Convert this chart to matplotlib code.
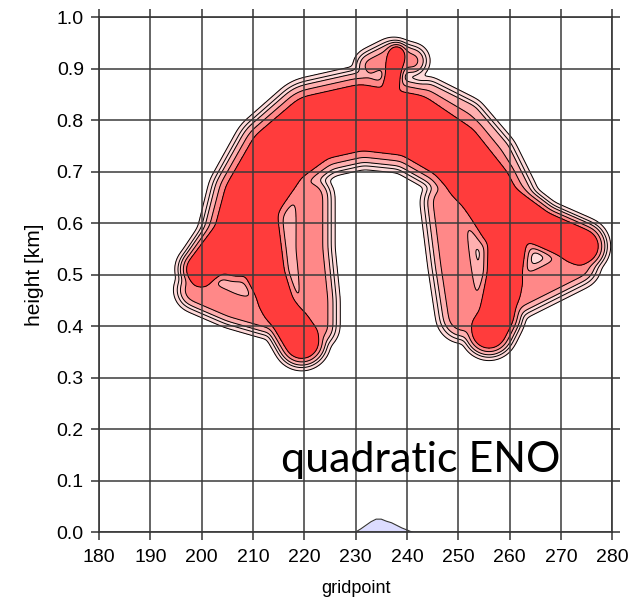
import numpy as np
import matplotlib
matplotlib.use("Agg")
import matplotlib.pyplot as plt

# bubble outline as tube strokes: centre line (gridpoint, km), half width (km)
ARCH_X = [207, 210, 215, 222, 231, 241, 249, 255, 259]
ARCH_Y = [0.55, 0.65, 0.73, 0.785, 0.805, 0.79, 0.74, 0.67, 0.60]
ARCH_W = [0.08, 0.085, 0.09, 0.095, 0.095, 0.09, 0.085, 0.08, 0.075]

LLOBE_X = [205, 200]
LLOBE_Y = [0.56, 0.51]
LLOBE_W = [0.06, 0.045]

LLEG_X = [210, 212.5, 215, 219.5]
LLEG_Y = [0.62, 0.50, 0.44, 0.37]
LLEG_W = [0.07, 0.055, 0.045, 0.05]

RLEG_X = [260, 259, 257.5, 256]
RLEG_Y = [0.62, 0.50, 0.42, 0.39]
RLEG_W = [0.06, 0.05, 0.05, 0.05]

RBRANCH_X = [258, 266, 274]
RBRANCH_Y = [0.64, 0.59, 0.555]
RBRANCH_W = [0.06, 0.05, 0.05]

CAP_X = [237, 238]
CAP_Y = [0.87, 0.93]
CAP_W = [0.02, 0.02]

# weaker (pink) parcels: centre line, half width, peak
LSWIRL_X = [199, 206, 213]
LSWIRL_Y = [0.47, 0.44, 0.42]
LIN_X = [221, 221, 222, 222]
LIN_Y = [0.65, 0.55, 0.45, 0.40]
RIN_X = [248, 249.5, 251]
RIN_Y = [0.64, 0.52, 0.42]
RSWIRL_X = [261, 267, 273]
RSWIRL_Y = [0.46, 0.49, 0.52]
CAPL_X = [233, 237, 241]
CAPL_Y = [0.905, 0.925, 0.915]
HALO_R_X = [244, 252, 258, 262]
HALO_R_Y = [0.85, 0.81, 0.74, 0.66]
HALO_L_X = [213, 207]
HALO_L_Y = [0.78, 0.70]

# small negative anomaly at the ground
NEG_X = [230, 231, 232, 233, 234, 235, 236, 237, 238, 239, 240, 241]
NEG_Y = [0.0, 0.006, 0.013, 0.02, 0.025, 0.025, 0.021, 0.018, 0.013, 0.008, 0.004, 0.0]

LEVELS = [0.01, 0.1, 0.2, 0.33, 5]
FILLS = ['#ffdada', '#ffb0b0', '#ff8888', '#ff3c3c']
LINES = [0.01, 0.045, 0.1, 0.2, 0.33]

xs = np.linspace(180, 280, 700)
ys = np.linspace(0, 1, 700)
XX, YY = np.meshgrid(xs, ys)
X = (XX - 180) / 100.0


def stroke(px, py, pw, a, gain=1.0):
    px = (np.asarray(px, float) - 180) / 100.0
    py = np.asarray(py, float)
    pw = np.broadcast_to(np.asarray(pw, float), px.shape)
    best = np.zeros_like(X)
    for i in range(len(px) - 1):
        dx, dy = px[i + 1] - px[i], py[i + 1] - py[i]
        L2 = dx * dx + dy * dy
        t = np.clip(((X - px[i]) * dx + (YY - py[i]) * dy) / L2, 0, 1)
        d = np.hypot(X - (px[i] + t * dx), YY - (py[i] + t * dy))
        w = pw[i] + t * (pw[i + 1] - pw[i])
        best = np.maximum(best, a * np.clip(gain * (1 - d / w), 0, 1))
    return best


def blur(f, sigma_km):
    s = sigma_km / (ys[1] - ys[0])
    k = np.arange(-int(4 * s), int(4 * s) + 1)
    k = np.exp(-0.5 * (k / s) ** 2)
    k /= k.sum()
    f = np.apply_along_axis(lambda r: np.convolve(r, k, mode='same'), 1, f)
    return np.apply_along_axis(lambda c: np.convolve(c, k, mode='same'), 0, f)


field = np.zeros_like(X)
for sx, sy, sw in [(ARCH_X, ARCH_Y, ARCH_W), (LLOBE_X, LLOBE_Y, LLOBE_W),
                   (LLEG_X, LLEG_Y, LLEG_W), (RLEG_X, RLEG_Y, RLEG_W),
                   (RBRANCH_X, RBRANCH_Y, RBRANCH_W), (CAP_X, CAP_Y, CAP_W)]:
    field = np.maximum(field, stroke(sx, sy, sw, 1.0))
for sx, sy, sw, a in [(LSWIRL_X, LSWIRL_Y, 0.04, 0.3), (LIN_X, LIN_Y, 0.045, 0.3),
                      (RIN_X, RIN_Y, 0.05, 0.3), (RSWIRL_X, RSWIRL_Y, 0.045, 0.3),
                      (CAPL_X, CAPL_Y, 0.03, 0.25), (HALO_R_X, HALO_R_Y, 0.03, 0.2),
                      (HALO_L_X, HALO_L_Y, 0.025, 0.2)]:
    field = np.maximum(field, stroke(sx, sy, sw, a, gain=1.6))
field = blur(field, 0.007)

fig = plt.figure(figsize=(6.39, 6.0), dpi=100)
ax = fig.add_axes([0.155, 0.1133, 0.803, 0.8583])
ax.contourf(XX, YY, field, levels=LEVELS, colors=FILLS, zorder=1)
ax.contour(XX, YY, field, levels=LINES, colors='black', linewidths=0.7, zorder=2)
ax.fill_between(NEG_X, 0, NEG_Y, color='#dcdcff', lw=0, zorder=1)
ax.plot(NEG_X, NEG_Y, color='#333333', lw=0.8, zorder=2)

ax.set_xlim(180, 280)
ax.set_ylim(0, 1)
ax.set_xticks(np.arange(180, 281, 10))
ax.set_yticks(np.arange(0, 1.01, 0.1))
ax.set_yticklabels([f'{v:.1f}' for v in np.arange(0, 1.01, 0.1)])
ax.grid(True, color='#3a3a3a', lw=1.1, zorder=3)
ax.set_axisbelow(False)
for s in ax.spines.values():
    s.set_color('#333333')
    s.set_linewidth(1.2)
ax.tick_params(direction='out', length=6, width=1.1, color='#333333',
               top=True, right=True, labelsize=14)
ax.tick_params(axis='x', pad=6)
ax.tick_params(axis='y', pad=5)
for lab in ax.get_xticklabels() + ax.get_yticklabels():
    lab.set_fontfamily('Liberation Sans')
ax.set_xlabel('gridpoint', fontsize=13, family='Liberation Sans', labelpad=10)
ax.set_ylabel('height [km]', fontsize=15, family='Liberation Sans', labelpad=9)

fig.text(281 / 639, 1 - 472 / 600, 'quadratic ENO', fontsize=31, family='Lato',
         ha='left', va='baseline', color='black')

fig.savefig('out.png', dpi=100)
